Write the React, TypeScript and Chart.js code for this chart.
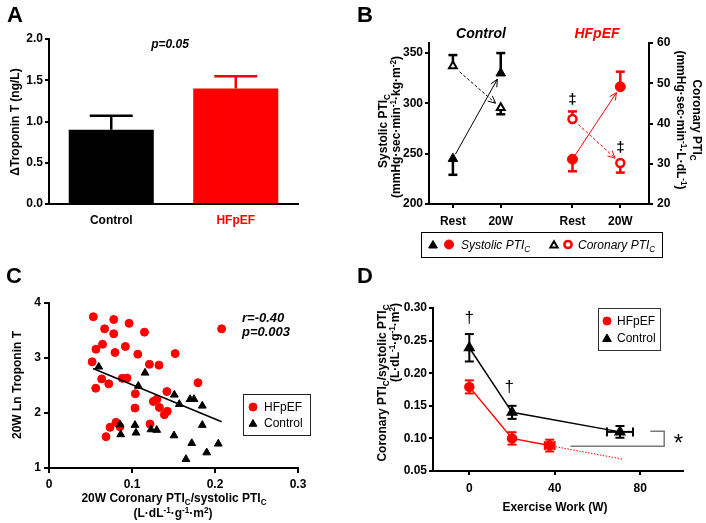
import React, { useEffect, useRef } from 'react';
import { Chart, registerables } from 'chart.js';

Chart.register(...registerables);

const FONT = "'Liberation Sans', Arial, Helvetica, sans-serif";
const RED = '#ff0000';
const BLACK = '#000000';

// ---------------- Panel A ----------------
const groupsA = ['Control', 'HFpEF'];
const meanA = [0.9, 1.4];
const semA = [0.17, 0.15];
const yTicksA = [0, 0.5, 1.0, 1.5, 2.0];

// ---------------- Panel B ----------------
const phaseLabelsB = ['Rest', '20W', 'Rest', '20W'];
const phasePosB = [0.5, 1.5, 3.0, 4.0];
const ctrlSystolicB = [245, 330];
const ctrlSystolicErrB = [-16, 20];
const ctrlCoronaryB = [54.3, 43.9];
const ctrlCoronaryErrB = [2.7, -1.6];
const hfSystolicB = [244.5, 316.5];
const hfSystolicErrB = [-12, 15];
const hfCoronaryB = [41.1, 30.2];
const hfCoronaryErrB = [1.9, -2.4];
const systolicTicksB = [200, 250, 300, 350];
const coronaryTicksB = [20, 30, 40, 50, 60];

// ---------------- Panel C ----------------
const hfRatioC = [0.0534, 0.078, 0.0965, 0.067, 0.078, 0.115, 0.208, 0.0645, 0.092, 0.0566, 0.0795, 0.107, 0.152, 0.052, 0.121, 0.1325, 0.0635, 0.0883, 0.094, 0.072, 0.0563, 0.1795, 0.142, 0.104, 0.13, 0.1257, 0.133, 0.1036, 0.1425, 0.139, 0.0807, 0.1217, 0.0735, 0.0855, 0.0687];
const hfTropC = [3.75, 3.70, 3.63, 3.53, 3.44, 3.47, 3.53, 3.25, 3.21, 3.16, 3.10, 3.07, 3.08, 2.93, 2.885, 2.87, 2.62, 2.63, 2.635, 2.53, 2.45, 2.55, 2.39, 2.35, 2.25, 2.21, 2.10, 2.09, 2.03, 1.97, 1.83, 1.80, 1.74, 1.75, 1.57];
const ctrlRatioC = [0.0599, 0.1157, 0.1076, 0.151, 0.170, 0.1747, 0.157, 0.1847, 0.0855, 0.0864, 0.1036, 0.1048, 0.1229, 0.1298, 0.1506, 0.1847, 0.172, 0.204, 0.19, 0.165];
const ctrlTropC = [2.84, 2.73, 2.49, 2.33, 2.25, 2.25, 2.16, 2.13, 1.79, 1.61, 1.78, 1.64, 1.70, 1.69, 1.59, 1.78, 1.45, 1.44, 1.28, 1.16];
const fitRatioC = [0.053, 0.208];
const fitTropC = [2.81, 1.84];
const xTicksC = [0, 0.1, 0.2, 0.3];
const yTicksC = [1, 2, 3, 4];

// ---------------- Panel D ----------------
const workHFD = [0, 20, 37.6];
const workHFErrD = [0, 0, 2.3];
const ratioHFD = [0.179, 0.1, 0.089];
const ratioHFErrD = [0.01, 0.0095, 0.009];
const extrapWorkHFD = [37.6, 72];
const extrapRatioHFD = [0.089, 0.068];
const workCtrlD = [0, 20, 70.5];
const workCtrlErrD = [0, 0, 6.1];
const ratioCtrlD = [0.239, 0.14, 0.11];
const ratioCtrlErrD = [0.021, 0.01, 0.009];
const workTicksD = [0, 40, 80];
const ratioTicksD = [0.05, 0.1, 0.15, 0.2, 0.25, 0.3];

// ---------------- helpers ----------------
type Seg = [string, number?];

function richWidth(ctx: CanvasRenderingContext2D, segs: Seg[], size: number, pre: string) {
  let w = 0;
  for (const [t, k] of segs) {
    ctx.font = `${pre} ${k ? size * 0.68 : size}px ${FONT}`;
    w += ctx.measureText(t).width;
  }
  return w;
}

function drawRich(ctx: CanvasRenderingContext2D, segs: Seg[], x: number, y: number, size: number, pre: string, color: string, align: 'left' | 'center' | 'right' = 'left') {
  ctx.save();
  ctx.fillStyle = color;
  ctx.textAlign = 'left';
  ctx.textBaseline = 'alphabetic';
  const w = richWidth(ctx, segs, size, pre);
  let cx = align === 'center' ? x - w / 2 : align === 'right' ? x - w : x;
  const base = y + size * 0.36;
  for (const [t, k] of segs) {
    const s = k ? size * 0.68 : size;
    ctx.font = `${pre} ${s}px ${FONT}`;
    const dy = k === 1 ? -size * 0.4 : k === -1 ? size * 0.25 : 0;
    ctx.fillText(t, cx, base + dy);
    cx += ctx.measureText(t).width;
  }
  ctx.restore();
}

function text(ctx: CanvasRenderingContext2D, t: string, x: number, y: number, size: number, pre: string, color: string, align: 'left' | 'center' | 'right' = 'left') {
  drawRich(ctx, [[t]], x, y, size, pre, color, align);
}

function rotated(ctx: CanvasRenderingContext2D, x: number, y: number, ang: number, fn: () => void) {
  ctx.save();
  ctx.translate(x, y);
  ctx.rotate(ang);
  fn();
  ctx.restore();
}

function seg(ctx: CanvasRenderingContext2D, x0: number, y0: number, x1: number, y1: number) {
  ctx.beginPath();
  ctx.moveTo(x0, y0);
  ctx.lineTo(x1, y1);
  ctx.stroke();
}

function triPath(ctx: CanvasRenderingContext2D, x: number, y: number, r: number) {
  ctx.beginPath();
  for (let i = 0; i < 3; i++) {
    const a = (i * 2 * Math.PI) / 3;
    const px = x + Math.sin(a) * r;
    const py = y - Math.cos(a) * r;
    if (i === 0) ctx.moveTo(px, py);
    else ctx.lineTo(px, py);
  }
  ctx.closePath();
}

function marker(ctx: CanvasRenderingContext2D, kind: 'tri' | 'circ', x: number, y: number, r: number, fill: string, stroke: string, lw: number) {
  ctx.save();
  if (kind === 'tri') triPath(ctx, x, y, r);
  else {
    ctx.beginPath();
    ctx.arc(x, y, r, 0, Math.PI * 2);
  }
  ctx.fillStyle = fill;
  ctx.fill();
  ctx.strokeStyle = stroke;
  ctx.lineWidth = lw;
  ctx.stroke();
  ctx.restore();
}

function errBar(ctx: CanvasRenderingContext2D, x: number, y0: number, y1: number, half: number, color: string, lw: number) {
  ctx.save();
  ctx.strokeStyle = color;
  ctx.lineWidth = lw;
  seg(ctx, x, y0, x, y1);
  seg(ctx, x - half, y1, x + half, y1);
  ctx.restore();
}

function errBarH(ctx: CanvasRenderingContext2D, y: number, x0: number, x1: number, half: number, color: string, lw: number) {
  ctx.save();
  ctx.strokeStyle = color;
  ctx.lineWidth = lw;
  seg(ctx, x0, y, x1, y);
  seg(ctx, x1, y - half, x1, y + half);
  ctx.restore();
}

function arrow(ctx: CanvasRenderingContext2D, x0: number, y0: number, x1: number, y1: number, s0: number, s1: number, color: string, dash: number[]) {
  const dx = x1 - x0, dy = y1 - y0;
  const L = Math.hypot(dx, dy);
  const ux = dx / L, uy = dy / L;
  const sx = x0 + ux * s0, sy = y0 + uy * s0;
  const ex = x1 - ux * s1, ey = y1 - uy * s1;
  ctx.save();
  ctx.strokeStyle = color;
  ctx.lineWidth = 1;
  ctx.setLineDash(dash);
  seg(ctx, sx, sy, ex, ey);
  ctx.setLineDash([]);
  const ang = Math.atan2(uy, ux);
  const hl = 8, spread = 0.45;
  seg(ctx, ex, ey, ex - hl * Math.cos(ang - spread), ey - hl * Math.sin(ang - spread));
  seg(ctx, ex, ey, ex - hl * Math.cos(ang + spread), ey - hl * Math.sin(ang + spread));
  ctx.restore();
}

function box(ctx: CanvasRenderingContext2D, x0: number, y0: number, x1: number, y1: number, color: string) {
  ctx.save();
  ctx.strokeStyle = color;
  ctx.lineWidth = 1;
  ctx.strokeRect(x0 + 0.5, y0 + 0.5, x1 - x0, y1 - y0);
  ctx.restore();
}

type AxisOpt = {
  min: number; max: number; values: number[]; fmt: (v: number, i: number) => string;
  position?: string; width?: number; height?: number; pad?: number; tickLength?: number; size?: number;
};

function linAxis(o: AxisOpt): any {
  return {
    type: 'linear',
    position: o.position,
    min: o.min,
    max: o.max,
    grid: { drawOnChartArea: false, drawTicks: true, tickLength: o.tickLength ?? 4, color: BLACK, lineWidth: 2 },
    border: { display: true, color: BLACK, width: 2 },
    ticks: {
      font: { family: FONT, size: o.size ?? 12, weight: 'bold' },
      color: BLACK,
      padding: o.pad ?? 2,
      autoSkip: false,
      maxRotation: 0,
      minRotation: 0,
      callback: (v: any, i: number) => o.fmt(Number(v), i),
    },
    afterBuildTicks: (s: any) => {
      s.ticks = o.values.map((v) => ({ value: v }));
    },
    afterFit: (s: any) => {
      if (o.width != null) s.width = o.width;
      if (o.height != null) s.height = o.height;
    },
  };
}

const baseOpts = {
  responsive: false,
  animation: false as const,
  devicePixelRatio: 1,
  events: [] as any[],
};

const noPlugins = { legend: { display: false }, tooltip: { enabled: false } };

// ---------------- configs ----------------
function configA(): any {
  const colors = [BLACK, RED];
  const plugin = {
    id: 'panelA',
    afterDatasetsDraw(chart: any) {
      const ctx = chart.ctx as CanvasRenderingContext2D;
      const ys = chart.scales.y;
      chart.getDatasetMeta(0).data.forEach((bar: any, i: number) => {
        errBar(ctx, bar.x, ys.getPixelForValue(meanA[i]), ys.getPixelForValue(meanA[i] + semA[i]), 21.5, colors[i], 2.5);
      });
    },
    afterDraw(chart: any) {
      const ctx = chart.ctx as CanvasRenderingContext2D;
      text(ctx, 'A', 7, 14.5, 22, 'bold', BLACK);
      text(ctx, 'p=0.05', 170, 44, 12, 'italic bold', BLACK, 'center');
      rotated(ctx, 15, 122, -Math.PI / 2, () => {
        text(ctx, '\u0394Troponin T (ng/L)', 0, 0, 12, 'bold', BLACK, 'center');
      });
    },
  };
  return {
    type: 'bar',
    data: {
      labels: groupsA,
      datasets: [{ data: meanA, backgroundColor: colors, borderWidth: 0, barPercentage: 0.683, categoryPercentage: 1 }],
    },
    options: {
      ...baseOpts,
      layout: { padding: { top: 39, right: 55, left: 0, bottom: 0 } },
      plugins: noPlugins,
      scales: {
        x: {
          type: 'category',
          grid: { display: false, drawTicks: false },
          border: { display: true, color: BLACK, width: 2 },
          ticks: {
            font: { family: FONT, size: 12, weight: 'bold' },
            color: (c: any) => colors[c.index] ?? BLACK,
            padding: 9,
            maxRotation: 0,
          },
          afterFit: (s: any) => { s.height = 51; },
        },
        y: linAxis({ min: 0, max: 2, values: yTicksA, fmt: (v) => v.toFixed(1), width: 49, pad: 2 }),
      },
    },
    plugins: [plugin],
  };
}

function configB(): any {
  const plugin = {
    id: 'panelB',
    beforeDatasetsDraw(chart: any) {
      const ctx = chart.ctx as CanvasRenderingContext2D;
      const sx = chart.scales.x, sy = chart.scales.y, sy2 = chart.scales.y2;
      const series = [
        { xs: phasePosB.slice(0, 2), v: ctrlSystolicB, e: ctrlSystolicErrB, s: sy, c: BLACK, dash: [] as number[], s0: 5 },
        { xs: phasePosB.slice(0, 2), v: ctrlCoronaryB, e: ctrlCoronaryErrB, s: sy2, c: BLACK, dash: [3, 2], s0: 9 },
        { xs: phasePosB.slice(2), v: hfSystolicB, e: hfSystolicErrB, s: sy, c: RED, dash: [] as number[], s0: 5 },
        { xs: phasePosB.slice(2), v: hfCoronaryB, e: hfCoronaryErrB, s: sy2, c: RED, dash: [3, 2], s0: 8 },
      ];
      for (const sr of series) {
        const px = sr.xs.map((x) => sx.getPixelForValue(x));
        const py = sr.v.map((v) => sr.s.getPixelForValue(v));
        sr.v.forEach((v, i) => {
          errBar(ctx, px[i], py[i], sr.s.getPixelForValue(v + sr.e[i]), 4.5, sr.c, 2.5);
        });
        arrow(ctx, px[0], py[0], px[1], py[1], sr.s0, 7, sr.c, sr.dash);
      }
    },
    afterDraw(chart: any) {
      const ctx = chart.ctx as CanvasRenderingContext2D;
      const sx = chart.scales.x, sy = chart.scales.y;
      text(ctx, 'B', 7, 14.5, 22, 'bold', BLACK);
      text(ctx, 'Control', 131, 33, 14, 'italic bold', BLACK, 'center');
      text(ctx, 'HFpEF', 247, 33, 14, 'italic bold', RED, 'center');
      // double daggers
      text(ctx, '\u2021', sx.getPixelForValue(phasePosB[2]), sy.getPixelForValue(305), 15, 'bold', BLACK, 'center');
      text(ctx, '\u2021', sx.getPixelForValue(phasePosB[3]), sy.getPixelForValue(257), 15, 'bold', BLACK, 'center');
      // left title
      rotated(ctx, 33, 131, -Math.PI / 2, () => {
        drawRich(ctx, [['Systolic PTI'], ['C', -1]], 0, 0, 12, 'bold', BLACK, 'center');
      });
      rotated(ctx, 46, 127, -Math.PI / 2, () => {
        drawRich(ctx, [['(mmHg\u00b7sec\u00b7min'], ['-1', 1], ['\u00b7kg\u00b7m'], ['-2', 1], [')']], 0, 0, 12, 'bold', BLACK, 'center');
      });
      // right title
      rotated(ctx, 347, 120, Math.PI / 2, () => {
        drawRich(ctx, [['Coronary PTI'], ['C', -1]], 0, 0, 12, 'bold', BLACK, 'center');
      });
      rotated(ctx, 331, 120, Math.PI / 2, () => {
        drawRich(ctx, [['(mmHg\u00b7sec\u00b7min'], ['-1', 1], ['\u00b7L\u00b7dL'], ['-1', 1], [')']], 0, 0, 12, 'bold', BLACK, 'center');
      });
      // legend
      box(ctx, 71, 232, 312, 257, BLACK);
      const ly = 244.5;
      marker(ctx, 'tri', 83, ly + 1, 5, BLACK, BLACK, 1);
      marker(ctx, 'circ', 99, ly, 4.5, RED, RED, 1);
      drawRich(ctx, [['Systolic PTI'], ['C', -1]], 111, ly, 12, 'italic', BLACK, 'left');
      marker(ctx, 'tri', 204, ly + 1, 4.2, '#fff', BLACK, 2);
      marker(ctx, 'circ', 218, ly, 3.6, '#fff', RED, 2.5);
      drawRich(ctx, [['Coronary PTI'], ['C', -1]], 228, ly, 12, 'italic', BLACK, 'left');
    },
  };
  const pts = (xs: number[], ys: number[]) => xs.map((x, i) => ({ x, y: ys[i] }));
  return {
    type: 'scatter',
    data: {
      datasets: [
        { data: pts(phasePosB.slice(0, 2), ctrlSystolicB), yAxisID: 'y', pointStyle: 'triangle', pointRadius: 5.5, backgroundColor: BLACK, borderColor: BLACK, borderWidth: 1 },
        { data: pts(phasePosB.slice(2), hfSystolicB), yAxisID: 'y', pointStyle: 'circle', pointRadius: 5, backgroundColor: RED, borderColor: RED, borderWidth: 1 },
        { data: pts(phasePosB.slice(0, 2), ctrlCoronaryB), yAxisID: 'y2', pointStyle: 'triangle', pointRadius: 4.5, backgroundColor: '#fff', borderColor: BLACK, borderWidth: 2 },
        { data: pts(phasePosB.slice(2), hfCoronaryB), yAxisID: 'y2', pointStyle: 'circle', pointRadius: 4, backgroundColor: '#fff', borderColor: RED, borderWidth: 2.5 },
      ],
    },
    options: {
      ...baseOpts,
      layout: { padding: { top: 43, right: 0, left: 0, bottom: 0 } },
      plugins: noPlugins,
      scales: {
        x: linAxis({ min: 0, max: 4.6, values: phasePosB, fmt: (_v, i) => phaseLabelsB[i], height: 58, pad: 6 }),
        y: linAxis({ min: 200, max: 360, values: systolicTicksB, fmt: (v) => String(v), position: 'left', width: 79, pad: 2 }),
        y2: linAxis({ min: 20, max: 60, values: coronaryTicksB, fmt: (v) => String(v), position: 'right', width: 57, pad: 4 }),
      },
    },
    plugins: [plugin],
  };
}

function configC(): any {
  const plugin = {
    id: 'panelC',
    afterDraw(chart: any) {
      const ctx = chart.ctx as CanvasRenderingContext2D;
      text(ctx, 'C', 6, 13.5, 22, 'bold', BLACK);
      text(ctx, 'r=-0.40', 242, 55, 13, 'italic bold', BLACK);
      text(ctx, 'p=0.003', 242, 69, 13, 'italic bold', BLACK);
      rotated(ctx, 17, 123, -Math.PI / 2, () => {
        text(ctx, '20W Ln Troponin T', 0, 0, 12, 'bold', BLACK, 'center');
      });
      drawRich(ctx, [['20W Coronary PTI'], ['C', -1], ['/systolic PTI'], ['C', -1]], 174, 236, 12, 'bold', BLACK, 'center');
      drawRich(ctx, [['(L\u00b7dL'], ['-1', 1], ['\u00b7g'], ['-1', 1], ['\u00b7m'], ['2', 1], [')']], 173, 251, 12, 'bold', BLACK, 'center');
      // legend
      box(ctx, 243, 132, 310, 173, '#222');
      marker(ctx, 'circ', 253, 145, 4, RED, RED, 1);
      text(ctx, 'HFpEF', 264, 145, 12, 'normal', BLACK);
      marker(ctx, 'tri', 253, 162, 4.5, BLACK, BLACK, 1);
      text(ctx, 'Control', 264, 161, 12, 'normal', BLACK);
    },
  };
  const pts = (xs: number[], ys: number[]) => xs.map((x, i) => ({ x, y: ys[i] }));
  return {
    type: 'scatter',
    data: {
      datasets: [
        { data: pts(fitRatioC, fitTropC), showLine: true, borderColor: BLACK, borderWidth: 1.5, pointRadius: 0 },
        { data: pts(ctrlRatioC, ctrlTropC), pointStyle: 'triangle', pointRadius: 4.5, backgroundColor: BLACK, borderColor: BLACK, borderWidth: 1 },
        { data: pts(hfRatioC, hfTropC), pointStyle: 'circle', pointRadius: 4, backgroundColor: RED, borderColor: RED, borderWidth: 1 },
      ],
    },
    options: {
      ...baseOpts,
      layout: { padding: { top: 41, right: 55, left: 0, bottom: 0 } },
      plugins: noPlugins,
      scales: {
        x: linAxis({ min: 0, max: 0.3, values: xTicksC, fmt: (v) => (v === 0 ? '0' : v.toFixed(1)), height: 55, pad: 4, tickLength: 5 }),
        y: linAxis({ min: 1, max: 4, values: yTicksC, fmt: (v) => String(v), width: 49, pad: 3, tickLength: 5 }),
      },
    },
    plugins: [plugin],
  };
}

function configD(): any {
  const plugin = {
    id: 'panelD',
    afterDatasetsDraw(chart: any) {
      const ctx = chart.ctx as CanvasRenderingContext2D;
      const sx = chart.scales.x, sy = chart.scales.y;
      const groups = [
        { w: workHFD, we: workHFErrD, r: ratioHFD, re: ratioHFErrD, c: RED },
        { w: workCtrlD, we: workCtrlErrD, r: ratioCtrlD, re: ratioCtrlErrD, c: BLACK },
      ];
      for (const g of groups) {
        g.w.forEach((w, i) => {
          const x = sx.getPixelForValue(w), y = sy.getPixelForValue(g.r[i]);
          errBar(ctx, x, y, sy.getPixelForValue(g.r[i] + g.re[i]), 4.5, g.c, 2);
          errBar(ctx, x, y, sy.getPixelForValue(g.r[i] - g.re[i]), 4.5, g.c, 2);
          if (g.we[i] > 0) {
            errBarH(ctx, y, x, sx.getPixelForValue(w + g.we[i]), 4.5, g.c, 2);
            errBarH(ctx, y, x, sx.getPixelForValue(w - g.we[i]), 4.5, g.c, 2);
          }
        });
      }
    },
    afterDraw(chart: any) {
      const ctx = chart.ctx as CanvasRenderingContext2D;
      const sx = chart.scales.x, sy = chart.scales.y;
      text(ctx, 'D', 7, 13.5, 22, 'bold', BLACK);
      rotated(ctx, 32, 121, -Math.PI / 2, () => {
        drawRich(ctx, [['Coronary PTI'], ['C', -1], ['/systolic PTI'], ['C', -1]], 0, 0, 12, 'bold', BLACK, 'center');
      });
      rotated(ctx, 45, 41, -Math.PI / 2, () => {
        drawRich(ctx, [['(L\u00b7dL'], ['-1', 1], ['\u00b7g'], ['-1', 1], ['\u00b7m'], ['2', 1], [')']], 0, 0, 12, 'bold', BLACK, 'right');
      });
      text(ctx, 'Exercise Work (W)', 205, 245, 12, 'bold', BLACK, 'center');
      // daggers
      text(ctx, '\u2020', sx.getPixelForValue(0), sy.getPixelForValue(0.286), 17, 'normal', BLACK, 'center');
      text(ctx, '\u2020', sx.getPixelForValue(18.7), sy.getPixelForValue(0.18), 17, 'normal', BLACK, 'center');
      // significance bracket
      const xr = sx.getPixelForValue(91.2);
      const yu = sy.getPixelForValue(0.111), yl = sy.getPixelForValue(0.088);
      ctx.save();
      ctx.strokeStyle = '#7a7a7a';
      ctx.lineWidth = 1.5;
      ctx.beginPath();
      ctx.moveTo(sx.getPixelForValue(84.7), yu);
      ctx.lineTo(xr, yu);
      ctx.lineTo(xr, yl);
      ctx.lineTo(sx.getPixelForValue(47.3), yl);
      ctx.stroke();
      ctx.restore();
      text(ctx, '*', sx.getPixelForValue(97.8), sy.getPixelForValue(0.1) + 4, 24, 'normal', BLACK, 'center');
      // legend
      box(ctx, 248, 46, 310, 88, '#333');
      marker(ctx, 'circ', 257, 59, 4, RED, RED, 1);
      text(ctx, 'HFpEF', 267, 59, 12, 'normal', BLACK);
      marker(ctx, 'tri', 257, 77, 5, BLACK, BLACK, 1);
      text(ctx, 'Control', 267, 76, 12, 'normal', BLACK);
    },
  };
  const pts = (xs: number[], ys: number[]) => xs.map((x, i) => ({ x, y: ys[i] }));
  return {
    type: 'scatter',
    data: {
      datasets: [
        { data: pts(workCtrlD, ratioCtrlD), showLine: true, borderColor: BLACK, borderWidth: 1.5, pointStyle: 'triangle', pointRadius: 5.5, backgroundColor: BLACK },
        { data: pts(workHFD, ratioHFD), showLine: true, borderColor: RED, borderWidth: 1.5, pointStyle: 'circle', pointRadius: 4.5, backgroundColor: RED },
        { data: pts(extrapWorkHFD, extrapRatioHFD), showLine: true, borderColor: RED, borderWidth: 1, borderDash: [1.5, 1.5], pointRadius: 0 },
      ],
    },
    options: {
      ...baseOpts,
      layout: { padding: { top: 46, right: 23, left: 0, bottom: 0 } },
      plugins: noPlugins,
      scales: {
        x: linAxis({ min: -17, max: 100, values: workTicksD, fmt: (v) => String(v), height: 52, pad: 6 }),
        y: linAxis({ min: 0.05, max: 0.3, values: ratioTicksD, fmt: (v) => v.toFixed(2), width: 83, pad: 2 }),
      },
    },
    plugins: [plugin],
  };
}

export default function App() {
  const refA = useRef<HTMLCanvasElement>(null);
  const refB = useRef<HTMLCanvasElement>(null);
  const refC = useRef<HTMLCanvasElement>(null);
  const refD = useRef<HTMLCanvasElement>(null);

  useEffect(() => {
    const charts = [
      new Chart(refA.current!, configA()),
      new Chart(refB.current!, configB()),
      new Chart(refC.current!, configC()),
      new Chart(refD.current!, configD()),
    ];
    return () => charts.forEach((c) => c.destroy());
  }, []);

  const abs = (left: number, top: number): React.CSSProperties => ({ position: 'absolute', left, top });
  return (
    <div style={{ position: 'fixed', left: 0, top: 0, width: 706, height: 523, background: '#fff', overflow: 'hidden' }}>
      <canvas ref={refA} width={353} height={255} style={abs(0, 0)} />
      <canvas ref={refB} width={356} height={262} style={abs(350, 0)} />
      <canvas ref={refC} width={353} height={261} style={abs(0, 262)} />
      <canvas ref={refD} width={356} height={261} style={abs(350, 262)} />
    </div>
  );
}
